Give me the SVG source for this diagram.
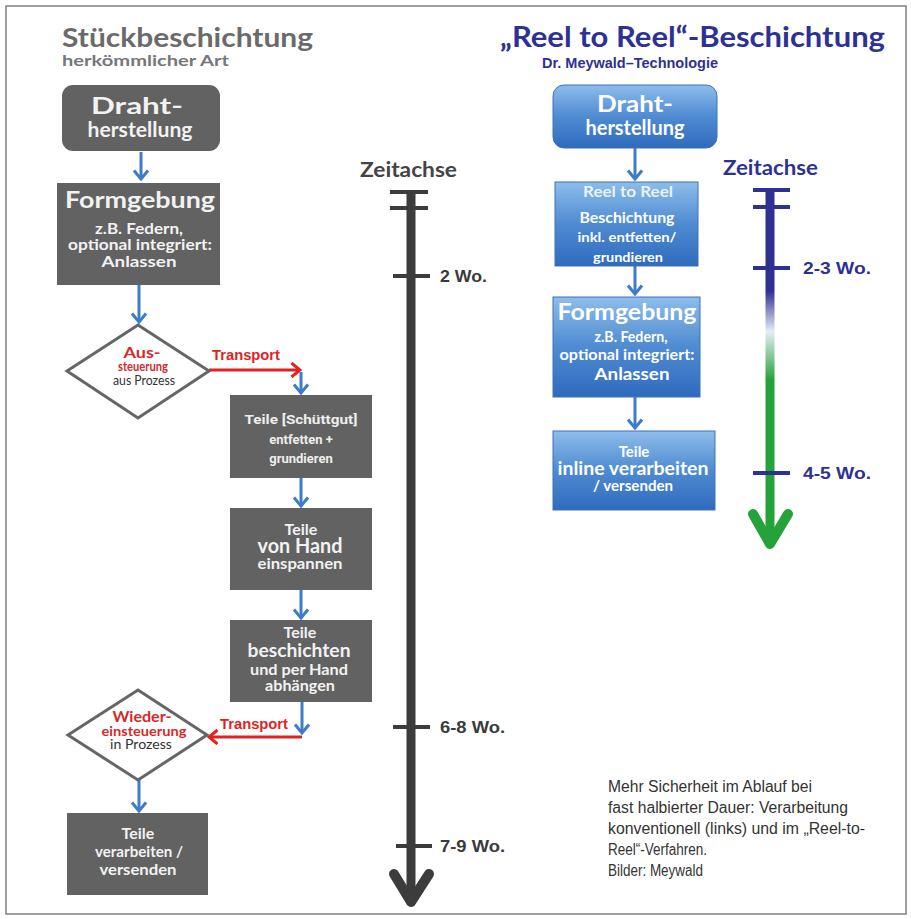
<svg xmlns="http://www.w3.org/2000/svg" width="911" height="919" viewBox="0 0 911 919">
<style>
.bx{fill:#626262}
.bt{font-family:Lato,"Open Sans",sans-serif;font-weight:bold;fill:#f2f2f2;text-anchor:middle}
.rt{font-family:Roboto,"Liberation Sans",sans-serif;font-weight:bold;fill:#eeeeee;text-anchor:middle}
.wt{font-family:Lato,"Open Sans",sans-serif;font-weight:bold;fill:#ffffff;text-anchor:middle}
.dm{fill:#ffffff;stroke:#666666;stroke-width:3}
.red{font-family:Lato,"Open Sans",sans-serif;font-weight:bold;fill:#d42a2a;text-anchor:middle}
.dk{font-family:Lato,"Open Sans",sans-serif;fill:#333333;text-anchor:middle}
.tr{font-family:"Liberation Sans",Arial,sans-serif;font-weight:bold;fill:#e0231f;font-size:14px}
.ba{stroke:#3d7cc9;stroke-width:3;fill:none;marker-end:url(#mb)}
.ra{stroke:#e0231f;stroke-width:3;fill:none;marker-end:url(#mr)}
.rb{fill:url(#gb);stroke:#3d72b8;stroke-width:1}
.tl{font-family:"Liberation Sans",Arial,sans-serif;font-weight:bold;font-size:17px;fill:#3a3a3a}
.tn{font-family:"Liberation Sans",Arial,sans-serif;font-weight:bold;font-size:17px;fill:#2e3192}
.cap{font-family:"Liberation Sans",Arial,sans-serif;font-size:16px;fill:#333333}
</style>
<defs>
<marker id="mb" viewBox="0 0 12 16" refX="10" refY="8" markerWidth="12" markerHeight="16" markerUnits="userSpaceOnUse" orient="auto">
<path d="M1.5,1 L10,8 L1.5,15" fill="none" stroke="#3d7cc9" stroke-width="3"/>
</marker>
<marker id="mr" viewBox="0 0 12 16" refX="10" refY="8" markerWidth="12" markerHeight="16" markerUnits="userSpaceOnUse" orient="auto">
<path d="M1.5,1 L10,8 L1.5,15" fill="none" stroke="#e0231f" stroke-width="3"/>
</marker>
<linearGradient id="gb" x1="0" y1="0" x2="0" y2="1">
<stop offset="0" stop-color="#8dbdea"/>
<stop offset="0.5" stop-color="#4f8bd2"/>
<stop offset="1" stop-color="#2f6bbd"/>
</linearGradient>
<linearGradient id="gt" x1="0" y1="180" x2="0" y2="550" gradientUnits="userSpaceOnUse">
<stop offset="0" stop-color="#2e3192"/>
<stop offset="0.3" stop-color="#2e3192"/>
<stop offset="0.41" stop-color="#e6edf6"/>
<stop offset="0.54" stop-color="#25a23a"/>
<stop offset="1" stop-color="#25a23a"/>
</linearGradient>
</defs>
<rect x="0" y="0" width="911" height="919" fill="#ffffff"/>
<rect x="6" y="6" width="900" height="908" fill="none" stroke="#808080" stroke-width="1.5"/>

<g id="titles">
<text x="62" y="47" font-family="Lato,'Open Sans',sans-serif" font-weight="bold" font-size="27" fill="#6a6a6a" textLength="251" lengthAdjust="spacingAndGlyphs">Stückbeschichtung</text>
<text x="62" y="66" font-family="Lato,'Open Sans',sans-serif" font-weight="bold" font-size="16" fill="#777777" textLength="167" lengthAdjust="spacingAndGlyphs">herkömmlicher Art</text>
<text x="500" y="47" font-family="Lato,'Open Sans',sans-serif" font-weight="bold" font-size="28" fill="#2e3192" textLength="385" lengthAdjust="spacingAndGlyphs">„Reel to Reel“-Beschichtung</text>
<text x="542" y="68" font-family="'Liberation Sans',Arial,sans-serif" font-weight="bold" font-size="15" fill="#2e3192" textLength="176" lengthAdjust="spacingAndGlyphs">Dr. Meywald–Technologie</text>
</g>

<g id="connectors">
<line class="ba" x1="141" y1="152" x2="141" y2="179"/>
<line class="ba" x1="139" y1="285" x2="139" y2="322"/>
<line class="ra" x1="209" y1="370" x2="300" y2="370"/>
<line class="ba" x1="301" y1="372" x2="301" y2="393"/>
<line class="ba" x1="301" y1="478" x2="301" y2="506"/>
<line class="ba" x1="301" y1="590" x2="301" y2="618"/>
<line class="ba" x1="302" y1="702" x2="302" y2="733"/>
<line class="ra" x1="302" y1="737" x2="209" y2="737"/>
<line class="ba" x1="139" y1="780" x2="139" y2="811"/>
<line class="ba" x1="635" y1="148" x2="635" y2="179"/>
<line class="ba" x1="635" y1="266" x2="635" y2="294"/>
<line class="ba" x1="635" y1="397" x2="635" y2="428"/>
<text class="tr" x="212" y="360" textLength="68" lengthAdjust="spacingAndGlyphs">Transport</text>
<text class="tr" x="220" y="729" textLength="68" lengthAdjust="spacingAndGlyphs">Transport</text>
</g>

<g id="l-draht">
<rect class="bx" x="62" y="85" width="158" height="66" rx="11"/>
<text class="bt" x="137" y="114" font-size="23" textLength="92" lengthAdjust="spacingAndGlyphs">Draht-</text>
<text class="bt" x="140" y="137" font-size="21" textLength="105" lengthAdjust="spacingAndGlyphs">herstellung</text>
</g>

<g id="l-form">
<rect class="bx" x="57" y="183" width="163" height="102"/>
<text class="bt" x="140" y="208" font-size="23" textLength="150" lengthAdjust="spacingAndGlyphs">Formgebung</text>
<text class="bt" x="139" y="234" font-size="15" textLength="88" lengthAdjust="spacingAndGlyphs">z.B. Federn,</text>
<text class="bt" x="140" y="250" font-size="15" textLength="144" lengthAdjust="spacingAndGlyphs">optional integriert:</text>
<text class="bt" x="139" y="267" font-size="16" textLength="75" lengthAdjust="spacingAndGlyphs">Anlassen</text>
</g>

<g id="l-aus">
<polygon class="dm" points="138,325 209,371 138,418 67,371"/>
<text class="red" x="142" y="358" font-size="15" textLength="37" lengthAdjust="spacingAndGlyphs">Aus-</text>
<text class="red" x="143" y="371" font-size="14" textLength="50" lengthAdjust="spacingAndGlyphs">steuerung</text>
<text class="dk" x="144" y="385" font-size="14" textLength="62" lengthAdjust="spacingAndGlyphs">aus Prozess</text>
</g>

<g id="l-entfetten">
<rect class="bx" x="230" y="395" width="142" height="83"/>
<text class="rt" x="301" y="424" font-size="13" textLength="113" lengthAdjust="spacingAndGlyphs">Teile [Schüttgut]</text>
<text class="rt" x="301" y="444" font-size="13">entfetten +</text>
<text class="rt" x="301" y="463" font-size="13">grundieren</text>
</g>

<g id="l-einspannen">
<rect class="bx" x="230" y="508" width="142" height="82"/>
<text class="bt" x="301" y="535" font-size="16">Teile</text>
<text class="bt" x="300" y="553" font-size="20" textLength="85" lengthAdjust="spacingAndGlyphs">von Hand</text>
<text class="bt" x="300" y="569" font-size="16" textLength="85" lengthAdjust="spacingAndGlyphs">einspannen</text>
</g>

<g id="l-beschichten">
<rect class="bx" x="230" y="620" width="142" height="82"/>
<text class="bt" x="300" y="638" font-size="16">Teile</text>
<text class="bt" x="299" y="657" font-size="19" textLength="103" lengthAdjust="spacingAndGlyphs">beschichten</text>
<text class="bt" x="299" y="675" font-size="16" textLength="98" lengthAdjust="spacingAndGlyphs">und per Hand</text>
<text class="bt" x="300" y="691" font-size="16" textLength="70" lengthAdjust="spacingAndGlyphs">abhängen</text>
</g>

<g id="l-wieder">
<polygon class="dm" points="138,690 207,735 138,780 68,735"/>
<text class="red" x="142" y="722" font-size="15" textLength="59" lengthAdjust="spacingAndGlyphs">Wieder-</text>
<text class="red" x="144" y="736" font-size="14" textLength="85" lengthAdjust="spacingAndGlyphs">einsteuerung</text>
<text class="dk" x="141" y="749" font-size="14" textLength="62" lengthAdjust="spacingAndGlyphs">in Prozess</text>
</g>

<g id="l-versenden">
<rect class="bx" x="67" y="813" width="141" height="82"/>
<text class="bt" x="138" y="839" font-size="16">Teile</text>
<text class="bt" x="139" y="857" font-size="16" textLength="88" lengthAdjust="spacingAndGlyphs">verarbeiten /</text>
<text class="bt" x="138" y="875" font-size="16" textLength="77" lengthAdjust="spacingAndGlyphs">versenden</text>
</g>

<g id="l-zeitachse">
<text x="360" y="177" font-family="Lato,'Open Sans',sans-serif" font-weight="bold" font-size="20" fill="#444444" textLength="97" lengthAdjust="spacingAndGlyphs">Zeitachse</text>
<g stroke="#3c3c3c" fill="none">
<line x1="411" y1="190" x2="411" y2="898" stroke-width="9"/>
<line x1="390" y1="192" x2="428" y2="192" stroke-width="4"/>
<line x1="390" y1="208" x2="428" y2="208" stroke-width="4"/>
<line x1="393" y1="276" x2="430" y2="276" stroke-width="4"/>
<line x1="393" y1="727" x2="430" y2="727" stroke-width="4"/>
<line x1="396" y1="846" x2="432" y2="846" stroke-width="4"/>
<path d="M394,874 L411,902 L429,874" stroke-width="10" stroke-linecap="round" stroke-linejoin="round"/>
</g>
<text class="tl" x="440" y="282" textLength="47" lengthAdjust="spacingAndGlyphs">2 Wo.</text>
<text class="tl" x="440" y="733" textLength="65" lengthAdjust="spacingAndGlyphs">6-8 Wo.</text>
<text class="tl" x="440" y="852" textLength="65" lengthAdjust="spacingAndGlyphs">7-9 Wo.</text>
</g>

<g id="r-draht">
<rect class="rb" x="553" y="85" width="164" height="63" rx="11"/>
<text class="wt" x="635" y="112" font-size="22" textLength="76" lengthAdjust="spacingAndGlyphs">Draht-</text>
<text class="wt" x="635" y="135" font-size="20" textLength="99" lengthAdjust="spacingAndGlyphs">herstellung</text>
</g>

<g id="r-reel">
<rect class="rb" x="555" y="182" width="143" height="84"/>
<text class="wt" x="628" y="197" font-size="15" fill-opacity="0.85" textLength="90" lengthAdjust="spacingAndGlyphs">Reel to Reel</text>
<text class="wt" x="627" y="223" font-size="16" textLength="95" lengthAdjust="spacingAndGlyphs">Beschichtung</text>
<text class="wt" x="627" y="242" font-size="14" textLength="99" lengthAdjust="spacingAndGlyphs">inkl. entfetten/</text>
<text class="wt" x="628" y="262" font-size="14" textLength="70" lengthAdjust="spacingAndGlyphs">grundieren</text>
</g>

<g id="r-form">
<rect class="rb" x="553" y="297" width="147" height="100"/>
<text class="wt" x="627" y="320" font-size="23" textLength="139" lengthAdjust="spacingAndGlyphs">Formgebung</text>
<text class="wt" x="631" y="342" font-size="15" textLength="73" lengthAdjust="spacingAndGlyphs">z.B. Federn,</text>
<text class="wt" x="627" y="360" font-size="15" textLength="135" lengthAdjust="spacingAndGlyphs">optional integriert:</text>
<text class="wt" x="632" y="380" font-size="17" textLength="75" lengthAdjust="spacingAndGlyphs">Anlassen</text>
</g>

<g id="r-inline">
<rect class="rb" x="553" y="431" width="162" height="79"/>
<text class="wt" x="634" y="457" font-size="15">Teile</text>
<text class="wt" x="633" y="475" font-size="19" textLength="151" lengthAdjust="spacingAndGlyphs">inline verarbeiten</text>
<text class="wt" x="633" y="491" font-size="16" textLength="80" lengthAdjust="spacingAndGlyphs">/ versenden</text>
</g>

<g id="r-zeitachse">
<text x="723" y="175" font-family="Lato,'Open Sans',sans-serif" font-weight="bold" font-size="20" fill="#2e3192" textLength="95" lengthAdjust="spacingAndGlyphs">Zeitachse</text>
<line x1="770" y1="188" x2="770" y2="542" stroke="url(#gt)" stroke-width="9"/>
<path d="M753,514 L770,544 L788,514" stroke="#25a23a" stroke-width="10" fill="none" stroke-linecap="round" stroke-linejoin="round"/>
<g stroke="#2e3192" stroke-width="4">
<line x1="753" y1="190" x2="790" y2="190"/>
<line x1="753" y1="207" x2="790" y2="207"/>
<line x1="753" y1="268" x2="790" y2="268"/>
<line x1="753" y1="473" x2="790" y2="473"/>
</g>
<text class="tn" x="803" y="274" textLength="68" lengthAdjust="spacingAndGlyphs">2-3 Wo.</text>
<text class="tn" x="803" y="479" textLength="68" lengthAdjust="spacingAndGlyphs">4-5 Wo.</text>
</g>

<g id="caption">
<text class="cap" x="608" y="792" textLength="204" lengthAdjust="spacingAndGlyphs">Mehr Sicherheit im Ablauf bei</text>
<text class="cap" x="608" y="813" textLength="240" lengthAdjust="spacingAndGlyphs">fast halbierter Dauer: Verarbeitung</text>
<text class="cap" x="608" y="834" textLength="257" lengthAdjust="spacingAndGlyphs">konventionell (links) und im „Reel-to-</text>
<text class="cap" x="608" y="855" textLength="99" lengthAdjust="spacingAndGlyphs">Reel“-Verfahren.</text>
<text class="cap" x="608" y="876" textLength="95" lengthAdjust="spacingAndGlyphs">Bilder: Meywald</text>
</g>
</svg>
